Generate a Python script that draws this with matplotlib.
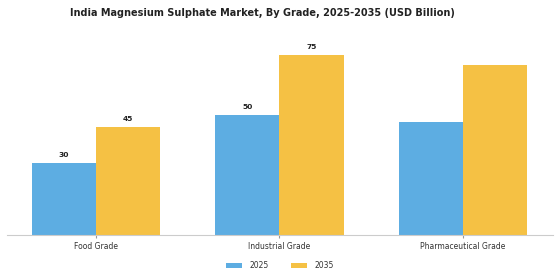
import matplotlib
matplotlib.use("Agg")
import matplotlib.pyplot as plt
import numpy as np

categories = ["Food Grade", "Industrial Grade", "Pharmaceutical Grade"]
years = ["2025", "2035"]
values_2025 = [30, 50, 47]
values_2035 = [45, 75, 71]
labels_2025 = ["30", "50", ""]
labels_2035 = ["45", "75", ""]
colors = ["#5DADE2", "#F5C144"]

fig = plt.figure(figsize=(5.6, 2.8), dpi=100)
ax = fig.add_axes([0.0125, 0.1607, 0.975, 0.707])
x = np.arange(len(categories))
w = 0.35
b1 = ax.bar(x - w/2, values_2025, w, color=colors[0], label=years[0])
b2 = ax.bar(x + w/2, values_2035, w, color=colors[1], label=years[1])
for bars, labs in ((b1, labels_2025), (b2, labels_2035)):
    for r, lab in zip(bars, labs):
        if lab:
            ax.text(r.get_x() + r.get_width()/2, r.get_height() + 2, lab,
                    ha="center", va="bottom", fontsize=5.4, fontweight="bold", color="#222222")

ax.set_xlim(-0.484, 2.49)
ax.set_ylim(0, 82.5)
ax.set_xticks(x)
ax.set_xticklabels(categories, fontsize=5.5, color="#333333")
ax.tick_params(axis="x", length=2, color="#999999", pad=3)
ax.set_yticks([])
for s in ("top", "right", "left"):
    ax.spines[s].set_visible(False)
ax.spines["bottom"].set_color("#cccccc")
ax.spines["bottom"].set_linewidth(0.8)

fig.suptitle("India Magnesium Sulphate Market, By Grade, 2025-2035 (USD Billion)",
             x=0.468, y=0.97, fontsize=7, fontweight="bold", color="#222222")
fig.legend(loc="center", bbox_to_anchor=(0.5, 0.052), ncol=2, frameon=False,
           fontsize=5.5, handlelength=2.0, handleheight=0.6, handletextpad=1.0,
           columnspacing=3.0, labelcolor="#333333")
fig.savefig("out.png", dpi=100)
